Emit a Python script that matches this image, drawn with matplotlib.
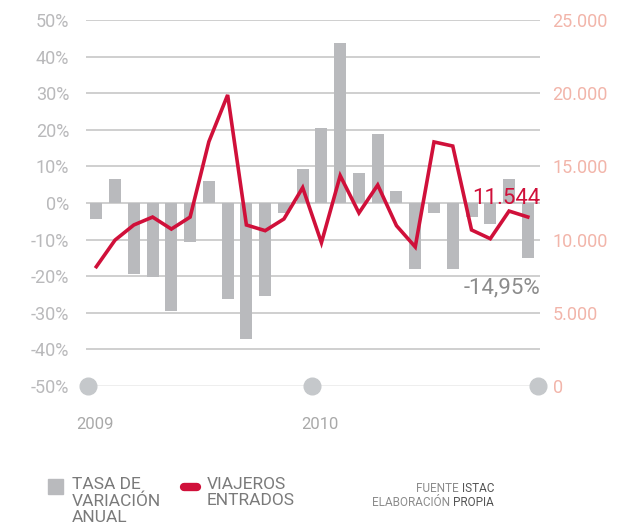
import matplotlib
matplotlib.use("Agg")
import matplotlib.pyplot as plt
from matplotlib.ticker import FuncFormatter
from matplotlib.patches import Rectangle
from matplotlib.lines import Line2D

# --- Datos ---
meses = list(range(1, 25))  # ene-2009 .. dic-2010
tasa_variacion = [-4.3, 6.6, -19.3, -20.3, -29.4, -10.6, 6.1, -26.2, -37.1, -25.5,
                  -2.6, 9.4, 20.6, 43.8, 8.3, 18.9, 3.4, -18.1, -2.6, -18.1,
                  -3.7, -5.8, 6.6, -14.95]
viajeros = [8150, 9970, 11000, 11540, 10720, 11540, 16690, 19880, 11000, 10610,
            11410, 13550, 9790, 14370, 11820, 13730, 10950, 9500, 16670, 16390,
            10660, 10060, 11950, 11544]
anios = ["2009", "2010"]
marcas_anio = [0.55, 12.5, 24.55]
ticks_pct = list(range(-50, 51, 10))
ticks_viaj = list(range(0, 25001, 5000))

GRIS_BAR = "#b9babd"
ROJO = "#d0103a"
GRIS_TXT = "#b9b9bb"
ROSA_TXT = "#f2b5aa"
FONT = ["Roboto", "DejaVu Sans"]

plt.rcParams["font.family"] = FONT

fig = plt.figure(figsize=(6.3, 5.27), dpi=100)
ax = fig.add_axes([86 / 630, 1 - 386 / 527, 454 / 630, 366 / 527])
ax2 = ax.twinx()

# grid
for t in ticks_pct[1:]:
    ax.axhline(t, color="#cbcbcb", lw=1.3, zorder=0)
ax.axhline(-50, color="#a9a9a9", lw=1.0, zorder=1)

ax.bar(meses, tasa_variacion, width=0.64, color=GRIS_BAR, zorder=2)
ax.plot(marcas_anio, [-50] * len(marcas_anio), "o", color="#c5c8cb",
        markersize=12, zorder=3, clip_on=False)

ax.set_xlim(0.45, 24.65)
ax.set_ylim(-50, 50)
ax.set_yticks(ticks_pct)
ax.yaxis.set_major_formatter(FuncFormatter(lambda v, p: f"{int(v)}%"))
ax.tick_params(axis="y", length=0, pad=12, labelsize=13, labelcolor=GRIS_TXT)
ax.set_xticks([])

ax2.plot(meses, viajeros, color=ROJO, lw=2.6, zorder=4, solid_joinstyle="miter")
ax2.set_ylim(0, 25000)
ax2.set_yticks(ticks_viaj)
ax2.yaxis.set_major_formatter(FuncFormatter(lambda v, p: f"{int(v):,}".replace(",", ".")))
ax2.tick_params(axis="y", length=0, pad=9, labelsize=13, labelcolor=ROSA_TXT)

for a in (ax, ax2):
    for s in a.spines.values():
        s.set_visible(False)

# años
for x, lab in zip(marcas_anio, anios):
    ax.text(x + 0.4, -60.5, lab, ha="center", va="center", fontsize=12,
            color="#a9a9a9", clip_on=False)

# etiquetas del último valor
ax2.text(24.65, viajeros[-1] + 550, "11.544", ha="right", va="bottom",
         fontsize=16, color=ROJO)
ax.text(24.65, tasa_variacion[-1] - 5.5, "-14,95%", ha="right", va="top",
        fontsize=16, color="#8c8c8c")

# leyenda
fig.patches.append(Rectangle((48 / 630, 1 - 494 / 527), 15 / 630, 15 / 527,
                             transform=fig.transFigure, color=GRIS_BAR))
fig.text(72 / 630, 1 - 477 / 527, "TASA DE\nVARIACIÓN\nANUAL", ha="left", va="top",
         fontsize=12.5, color="#7a7a7a", linespacing=1.12)
fig.lines.append(Line2D([184 / 630, 197 / 630], [1 - 487 / 527, 1 - 487 / 527],
                        transform=fig.transFigure, color=ROJO, lw=6,
                        solid_capstyle="round"))
fig.text(207 / 630, 1 - 477 / 527, "VIAJEROS\nENTRADOS", ha="left", va="top",
         fontsize=12.5, color="#7a7a7a", linespacing=1.12)

t1 = fig.text(494 / 630, 1 - 489 / 527, "ISTAC", ha="right", va="center",
              fontsize=8.5, color="#555555")
t2 = fig.text(494 / 630, 1 - 502 / 527, "PROPIA", ha="right", va="center",
              fontsize=8.5, color="#555555")
ax.annotate("FUENTE ", xy=(0, 0.5), xycoords=t1, ha="right", va="center",
            fontsize=8.5, color="#8c8c8c", annotation_clip=False)
ax.annotate("ELABORACIÓN ", xy=(0, 0.5), xycoords=t2, ha="right", va="center",
            fontsize=8.5, color="#8c8c8c", annotation_clip=False)

fig.savefig("out.png", dpi=100)
